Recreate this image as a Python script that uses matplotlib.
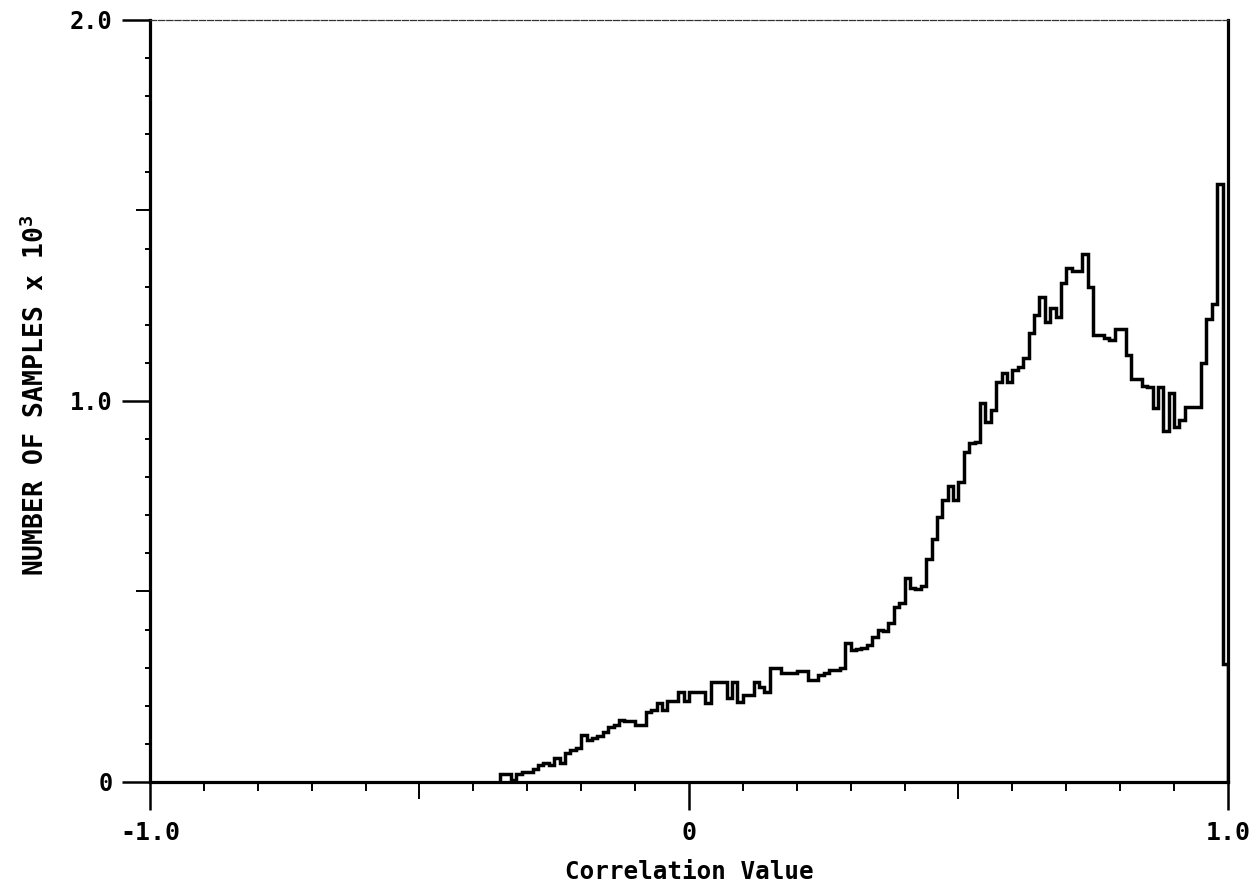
"""
Correlation histogram — number of samples per correlation bin.
Plotter-style step outline, x from -1 to 1, counts in thousands.
"""

import numpy as np
import matplotlib
matplotlib.use('Agg')
import matplotlib.pyplot as plt

# ── Data ──────────────────────────────────────────────────────────────────────
BIN_START = -0.35
BIN_WIDTH = 0.01

# samples per bin (x 10^3), one value per 0.01-wide bin starting at BIN_START
counts = [
    0.020, 0.020, 0.005, 0.022, 0.027, 0.027, 0.035, 0.045, 0.050, 0.045,   # -0.35 .. -0.26
    0.063, 0.050, 0.075, 0.085, 0.090, 0.123, 0.110, 0.115, 0.120, 0.130,   # -0.25 .. -0.16
    0.145, 0.150, 0.163, 0.160, 0.160, 0.150, 0.150, 0.185, 0.190, 0.207,   # -0.15 .. -0.06
    0.190, 0.213, 0.213, 0.237, 0.213, 0.237, 0.237, 0.237, 0.207, 0.263,   # -0.05 ..  0.04
    0.263, 0.263, 0.220, 0.263, 0.210, 0.228, 0.228, 0.263, 0.250, 0.237,   #  0.05 ..  0.14
    0.300, 0.300, 0.285, 0.285, 0.285, 0.290, 0.290, 0.268, 0.268, 0.280,   #  0.15 ..  0.24
    0.285, 0.294, 0.294, 0.300, 0.366, 0.346, 0.350, 0.352, 0.360, 0.381,   #  0.25 ..  0.34
    0.400, 0.395, 0.417, 0.460, 0.470, 0.535, 0.510, 0.506, 0.515, 0.585,   #  0.35 ..  0.44
    0.638, 0.695, 0.740, 0.777, 0.740, 0.788, 0.867, 0.889, 0.893, 0.994,   #  0.45 ..  0.54
    0.945, 0.976, 1.050, 1.073, 1.050, 1.081, 1.090, 1.113, 1.178, 1.226,   #  0.55 ..  0.64
    1.274, 1.208, 1.244, 1.220, 1.310, 1.349, 1.340, 1.340, 1.386, 1.300,   #  0.65 ..  0.74
    1.173, 1.173, 1.165, 1.160, 1.190, 1.190, 1.120, 1.058, 1.058, 1.040,   #  0.75 ..  0.84
    1.038, 0.981, 1.038, 0.920, 1.020, 0.933, 0.950, 0.985, 0.985, 0.985,   #  0.85 ..  0.94
    1.100, 1.216, 1.255, 1.570, 0.310,                                      #  0.95 ..  0.99
]

x_major = [-1.0, 0.0, 1.0]
x_major_labels = ['-1.0', '0', '1.0']
y_major = [0.0, 1.0, 2.0]
y_major_labels = ['0', '1.0', '2.0']
x_minor = [round(v, 1) for v in np.arange(-0.9, 1.0, 0.1) if abs(v) > 1e-9]
y_minor = [round(v, 1) for v in np.arange(0.1, 2.0, 0.1) if abs(v - 1.0) > 1e-9]

edges = BIN_START + BIN_WIDTH * np.arange(len(counts) + 1)

# ── Style ─────────────────────────────────────────────────────────────────────
FONT = 'DejaVu Sans Mono'
plt.rcParams['font.family'] = FONT
plt.rcParams['font.weight'] = 'bold'
plt.rcParams['mathtext.fontset'] = 'custom'
plt.rcParams['mathtext.rm'] = 'DejaVu Sans Mono:bold'
plt.rcParams['mathtext.default'] = 'rm'

fig = plt.figure(figsize=(12.56, 8.84), dpi=100, facecolor='white')
ax = fig.add_axes([0.1194, 0.1154, 0.8583, 0.8620])

# ── Histogram outline ─────────────────────────────────────────────────────────
ax.stairs(counts, edges, baseline=0, color='black', lw=2.5)

ax.set_xlim(-1.0, 1.0)
ax.set_ylim(0.0, 2.0)

# spines: heavy left/bottom/right, light dashed top
for side in ['left', 'bottom', 'right']:
    ax.spines[side].set_linewidth(2.3)
ax.spines['top'].set_linewidth(0.9)
ax.spines['top'].set_linestyle((0, (5, 1.5)))
ax.spines['top'].set_color('#333333')

ax.set_xticks(x_major)
ax.set_xticklabels(x_major_labels)
ax.set_xticks(x_minor, minor=True)
ax.set_yticks(y_major)
ax.set_yticklabels(y_major_labels)
ax.set_yticks(y_minor, minor=True)

ax.tick_params(axis='x', which='major', direction='out', length=20, width=1.8,
               pad=8, labelsize=18)
ax.tick_params(axis='x', which='minor', direction='out', length=6.5, width=1.4)
ax.tick_params(axis='y', which='major', direction='out', length=20, width=1.8,
               pad=7, labelsize=17)
ax.tick_params(axis='y', which='minor', direction='out', length=3.8, width=1.4)

# half-unit ticks are drawn a bit longer than the tenths
fig.canvas.draw()
for t, loc in zip(ax.xaxis.get_minor_ticks(), ax.xaxis.get_minorticklocs()):
    if abs(abs(loc) - 0.5) < 1e-6:
        t.tick1line.set_markersize(12)
for t, loc in zip(ax.yaxis.get_minor_ticks(), ax.yaxis.get_minorticklocs()):
    if abs(loc - 0.5) < 1e-6 or abs(loc - 1.5) < 1e-6:
        t.tick1line.set_markersize(10)

# ── Labels ────────────────────────────────────────────────────────────────────
fig.text(689 / 1256, 1 - 872 / 884, 'Correlation Value', ha='center', va='center',
         fontsize=17.5, fontweight='bold')
fig.text(36 / 1256, 1 - 395 / 884, r'NUMBER OF SAMPLES x 10$^3$', rotation=90,
         ha='center', va='center', fontsize=19, fontweight='bold')

fig.savefig('out.png', dpi=100, facecolor='white')
plt.close(fig)
